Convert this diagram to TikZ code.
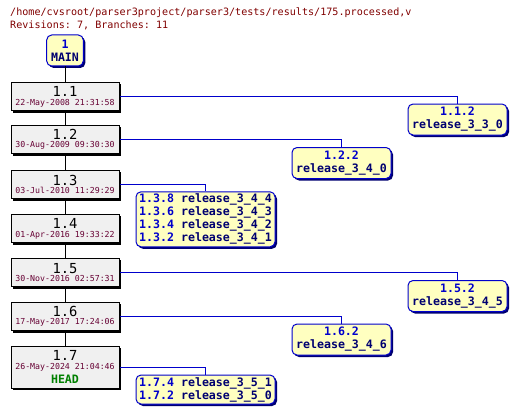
\documentclass[tikz,border=0pt]{standalone}
\usepackage{fontspec}
\setmonofont{DejaVu Sans Mono}
\usetikzlibrary{shadows, positioning}

\definecolor{titlered}{RGB}{128,0,0}
\definecolor{datered}{RGB}{102,0,51}
\definecolor{revgray}{RGB}{240,240,240}
\definecolor{tagyellow}{RGB}{255,255,192}
\definecolor{tagblue}{RGB}{0,0,204}
\definecolor{tagnavy}{RGB}{0,0,112}
\definecolor{headgreen}{RGB}{0,128,0}

\newcommand{\revfont}{\fontsize{13.8}{8.7}\selectfont}
\newcommand{\stamp}[1]{{\color{datered}#1}}

\tikzset{
  revbox/.style={draw=black, fill=revgray, line width=1pt, minimum width=108pt,
    minimum height=28.5pt, inner sep=0pt, align=center,
    font={\ttfamily\fontsize{8.25}{8.7}\selectfont},
    drop shadow={shadow xshift=2pt, shadow yshift=-2pt, fill=black, opacity=1}},
  tagbox/.style={draw=tagblue, fill=tagyellow, line width=1pt, rounded corners=5pt,
    inner sep=0pt, align=center, text=tagnavy,
    font={\ttfamily\bfseries\fontsize{11.6}{13}\selectfont},
    drop shadow={shadow xshift=2pt, shadow yshift=-2pt, fill=tagnavy, opacity=1}},
  trunk/.style={draw=black, line width=1pt},
  branchline/.style={draw=tagblue, line width=1pt}
}

\begin{document}
\begin{tikzpicture}[x=1pt, y=-1pt]
  \useasboundingbox (0,0) rectangle (518,417);

  % Header
  \node[anchor=base west, inner sep=0pt, text=titlered, font={\ttfamily\fontsize{10.1}{12}\selectfont}]
    (title) at (10,15.7) {/home/cvsroot/parser3project/parser3/tests/results/175.processed,v};
  \node[anchor=base west, inner sep=0pt, text=titlered, font={\ttfamily\fontsize{10.1}{12}\selectfont}]
    (stats) at (10,28.3) {Revisions: 7, Branches: 11};

  % Trunk root
  \node[tagbox, minimum width=36.6pt, minimum height=31pt] (main) at (65,50.5)
    {\textcolor{tagblue}{1}\\MAIN};

  % Revisions on the trunk
  \node[revbox] (r11) at (65,96.5) {{\revfont 1.1}\\\stamp{22-May-2008 21:31:58}};
  \node[revbox] (r12) at (65,139.3) {{\revfont 1.2}\\\stamp{30-Aug-2009 09:30:30}};
  \node[revbox] (r13) at (65,184.3) {{\revfont 1.3}\\\stamp{03-Jul-2010 11:29:29}};
  \node[revbox] (r14) at (65,228.5) {{\revfont 1.4}\\\stamp{01-Apr-2016 19:33:22}};
  \node[revbox] (r15) at (65,272.5) {{\revfont 1.5}\\\stamp{30-Nov-2016 02:57:31}};
  \node[revbox] (r16) at (65,316.3) {{\revfont 1.6}\\\stamp{17-May-2017 17:24:06}};
  \node[revbox, minimum height=42pt] (r17) at (65,367)
    {{\revfont 1.7}\\\stamp{26-May-2024 21:04:46}\\[3.3pt]{\fontsize{11.6}{8.7}\selectfont\bfseries\color{headgreen}HEAD}};

  % Branch tags
  \node[tagbox, minimum width=99pt, minimum height=31pt] (b112) at (457.5,119.5)
    {\textcolor{tagblue}{1.1.2}\\release\_3\_3\_0};
  \node[tagbox, minimum width=99pt, minimum height=31pt] (b122) at (341.5,163)
    {\textcolor{tagblue}{1.2.2}\\release\_3\_4\_0};
  \node[tagbox, minimum width=139pt, minimum height=55pt] (b13) at (205.5,219.3)
    {\textcolor{tagblue}{1.3.8} release\_3\_4\_4\\\textcolor{tagblue}{1.3.6} release\_3\_4\_3\\
     \textcolor{tagblue}{1.3.4} release\_3\_4\_2\\\textcolor{tagblue}{1.3.2} release\_3\_4\_1};
  \node[tagbox, minimum width=99pt, minimum height=31pt] (b152) at (457.5,296)
    {\textcolor{tagblue}{1.5.2}\\release\_3\_4\_5};
  \node[tagbox, minimum width=99pt, minimum height=31pt] (b162) at (341.5,339.5)
    {\textcolor{tagblue}{1.6.2}\\release\_3\_4\_6};
  \node[tagbox, minimum width=139pt, minimum height=29pt] (b17) at (205.5,389.5)
    {\textcolor{tagblue}{1.7.4} release\_3\_5\_1\\\textcolor{tagblue}{1.7.2} release\_3\_5\_0};

  % Trunk line
  \draw[trunk] (main) -- (r11);
  \draw[trunk] (r11) -- (r12);
  \draw[trunk] (r12) -- (r13);
  \draw[trunk] (r13) -- (r14);
  \draw[trunk] (r14) -- (r15);
  \draw[trunk] (r15) -- (r16);
  \draw[trunk] (r16) -- (r17);

  % Branch lines
  \draw[branchline] (r11.east) -| (b112.north);
  \draw[branchline] (r12.east) -| (b122.north);
  \draw[branchline] (r13.east) -| (b13.north);
  \draw[branchline] (r15.east) -| (b152.north);
  \draw[branchline] (r16.east) -| (b162.north);
  \draw[branchline] (r17.east) -| (b17.north);
\end{tikzpicture}
\end{document}
